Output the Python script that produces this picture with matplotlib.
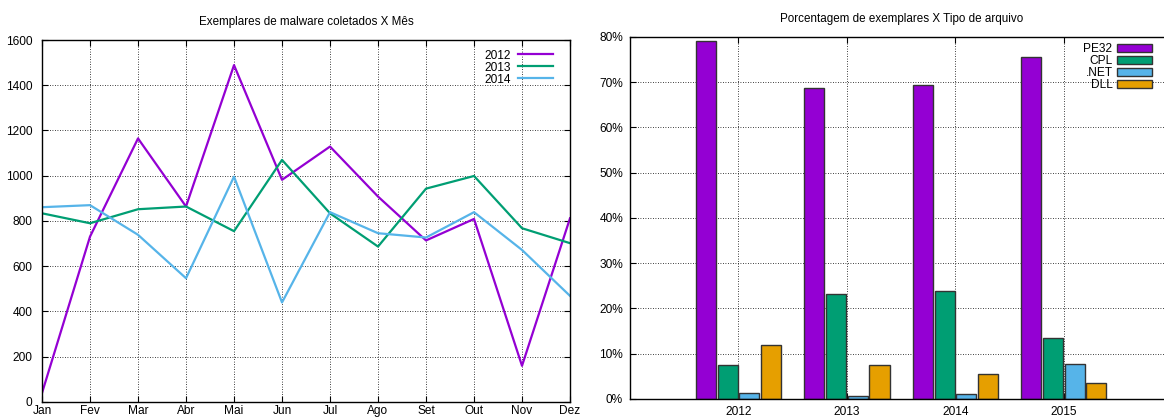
import numpy as np
import matplotlib.pyplot as plt
from matplotlib.ticker import FuncFormatter

plt.rcParams['font.family'] = ['Liberation Sans', 'DejaVu Sans']
plt.rcParams['font.size'] = 8.6

meses = ['Jan', 'Fev', 'Mar', 'Abr', 'Mai', 'Jun', 'Jul', 'Ago', 'Set', 'Out', 'Nov', 'Dez']
m2012 = [40, 731, 1165, 864, 1489, 982, 1129, 908, 714, 809, 160, 812]
m2013 = [834, 790, 852, 864, 755, 1070, 834, 687, 943, 999, 768, 702]
m2014 = [861, 870, 739, 547, 996, 440, 839, 746, 727, 839, 672, 469]

anos = ['2012', '2013', '2014', '2015']
tipos = ['PE32', 'CPL', '.NET', 'DLL']
pe32 = [79.2, 68.7, 69.5, 75.5]
cpl = [7.5, 23.2, 23.8, 13.4]
dotnet = [1.25, 0.6, 1.0, 7.65]
dll = [11.9, 7.4, 5.6, 3.5]

cores = ['#9400D3', '#009E73', '#56B4E9', '#E69F00']

fig = plt.figure(figsize=(11.64, 4.18), dpi=100)


def estilo(ax, xpad, ypad):
    ax.tick_params(direction='in', top=True, right=True, length=4, width=0.8)
    ax.tick_params(axis='x', pad=xpad)
    ax.tick_params(axis='y', pad=ypad)
    ax.grid(True, color='black', linestyle=(0, (1, 2)), linewidth=0.6)
    ax.set_axisbelow(True)
    for s in ax.spines.values():
        s.set_linewidth(1.0)


# meses
ax1 = fig.add_axes([0.0361, 0.0383, 0.4536, 0.866])
x = np.arange(len(meses))
for serie, cor, nome in zip([m2012, m2013, m2014], cores, ['2012', '2013', '2014']):
    ax1.plot(x, serie, color=cor, linewidth=1.6, label=nome)
ax1.set_xlim(0, 11)
ax1.set_ylim(0, 1600)
ax1.set_xticks(x)
ax1.set_xticklabels(meses)
ax1.set_yticks(range(0, 1601, 200))
ax1.set_title('Exemplares de malware coletados X Mês', fontsize=8.4, pad=11)
estilo(ax1, 2.5, 7)
ax1.legend(loc='upper right', bbox_to_anchor=(0.985, 1.0), frameon=False, markerfirst=False,
           handlelength=2.9, labelspacing=0.0, borderaxespad=0.4, handletextpad=0.6)

# tipos de arquivo
ax2 = fig.add_axes([0.5412, 0.0455, 0.466, 0.866])
xa = np.arange(len(anos))
larg = 0.2
for i, (vals, cor, nome) in enumerate(zip([pe32, cpl, dotnet, dll], cores, tipos)):
    ax2.bar(xa + (i - 1.5) * larg, vals, width=0.185, color=cor, edgecolor='#333333',
            linewidth=1.0, label=nome)
ax2.set_xlim(-1, 4)
ax2.set_ylim(0, 80)
ax2.set_xticks(xa)
ax2.set_xticklabels(anos)
ax2.set_yticks(range(0, 81, 10))
ax2.yaxis.set_major_formatter(FuncFormatter(lambda v, p: '%d%%' % v))
ax2.set_title('Porcentagem de exemplares X Tipo de arquivo', fontsize=8.4, pad=11)
estilo(ax2, 5, 5)
ax2.legend(loc='upper right', bbox_to_anchor=(0.98, 1.01), frameon=False, markerfirst=False,
           handlelength=2.9, handleheight=0.6, labelspacing=0.0, borderaxespad=0.4,
           handletextpad=0.4)

fig.savefig('out.png', dpi=100)
